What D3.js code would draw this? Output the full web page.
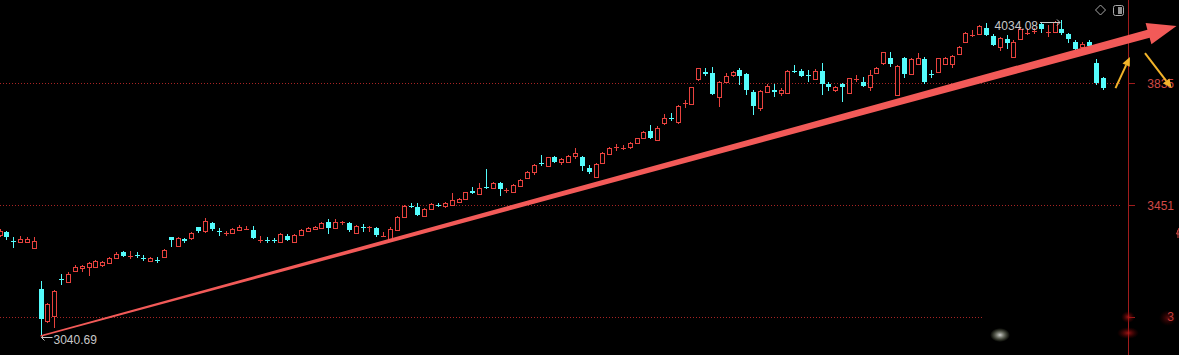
<!DOCTYPE html>
<html lang="zh">
<head>
<meta charset="UTF-8">
<title>K线走势</title>
<script src="https://cdnjs.cloudflare.com/ajax/libs/d3/7.8.5/d3.min.js"></script>
<style>
  body { margin: 0; background: #000; overflow: hidden; }
  svg { display: block; }
  text { font-family: "Liberation Sans", Arial, sans-serif; }
</style>
</head>
<body>
<div id="chart"></div>
<script>
// daily candles, oldest first
const opens = [3358,3368,3341,3336,3337,3317,3188,3086,3104,3222,
  3212,3245,3254,3259,3256,3264,3270,3286,3305,3292,
  3297,3288,3274,3280,3288,3351,3325,3345,3348,3382,
  3369,3397,3372,3361,3365,3376,3374,3374,3342,3345,
  3342,3335,3355,3335,3358,3371,3378,3382,3400,3382,
  3397,3395,3364,3384,3382,3379,3355,3345,3376,3414,
  3450,3445,3419,3440,3455,3447,3452,3462,3470,3497,
  3489,3510,3505,3521,3497,3494,3513,3538,3557,3588,
  3573,3604,3587,3589,3604,3602,3568,3541,3585,3612,
  3633,3630,3634,3646,3664,3686,3657,3709,3728,3714,
  3770,3769,3846,3870,3867,3793,3840,3863,3877,3864,
  3809,3758,3809,3814,3804,3804,3875,3875,3864,3849,
  3874,3832,3816,3832,3804,3848,3840,3824,3867,3898,
  3914,3798,3914,3864,3898,3912,3867,3870,3895,3896,
  3926,3966,3986,3990,4008,3984,3950,3973,3919,3973,
  3991,3996,4022,3994,3995,4006,3990,3966,3949,3964,
  3898,3851];
const highs = [3377,3371,3353,3355,3353,3352,3214,3145,3185,3236,
  3243,3264,3264,3273,3280,3277,3289,3306,3308,3308,
  3306,3295,3290,3290,3314,3353,3353,3350,3367,3384,
  3411,3400,3379,3371,3381,3390,3386,3386,3355,3351,
  3348,3364,3360,3361,3377,3382,3386,3400,3408,3408,
  3403,3400,3390,3393,3387,3384,3369,3382,3418,3452,
  3458,3458,3442,3458,3460,3461,3489,3476,3494,3510,
  3521,3565,3526,3526,3507,3519,3533,3559,3580,3610,
  3604,3607,3601,3610,3631,3607,3578,3584,3618,3634,
  3643,3641,3650,3664,3685,3704,3701,3739,3741,3767,
  3783,3824,3884,3884,3885,3843,3867,3874,3882,3868,
  3814,3814,3833,3833,3821,3877,3893,3879,3877,3879,
  3898,3840,3828,3837,3853,3861,3854,3877,3886,3934,
  3934,3893,3919,3914,3929,3919,3877,3916,3917,3924,
  3952,3997,4003,4018,4024,3990,3982,3987,3971,4008,
  4008,4008,4029,4018,4030,4034.08,3994,3971,3965,3971,
  3911,3856];
const lows = [3352,3342,3317,3333,3334,3314,3040.69,3082,3067,3201,
  3207,3242,3242,3229,3254,3259,3267,3282,3290,3283,
  3287,3277,3272,3269,3285,3321,3321,3334,3342,3365,
  3365,3372,3355,3355,3363,3372,3373,3345,3332,3332,
  3334,3332,3339,3332,3355,3368,3376,3379,3361,3379,
  3390,3369,3361,3369,3369,3353,3351,3340,3374,3411,
  3442,3418,3417,3437,3447,3444,3450,3460,3468,3487,
  3487,3504,3503,3482,3489,3492,3510,3536,3547,3575,
  3571,3585,3578,3585,3596,3559,3549,3540,3584,3610,
  3622,3625,3628,3644,3662,3659,3655,3703,3717,3706,
  3757,3767,3843,3858,3798,3762,3837,3854,3830,3798,
  3735,3748,3806,3793,3795,3801,3867,3856,3840,3846,
  3798,3812,3807,3775,3801,3840,3824,3812,3863,3893,
  3887,3795,3851,3861,3893,3833,3851,3867,3893,3882,
  3924,3964,3980,3987,3984,3952,3938,3942,3917,3971,
  3987,3990,3992,3982,3992,3987,3963,3940,3943,3945,
  3830,3814];
const closes = [3371,3352,3338,3347,3346,3339,3094,3140,3182,3218,
  3236,3258,3261,3271,3276,3273,3286,3298,3292,3295,
  3294,3285,3285,3278,3311,3340,3350,3340,3364,3369,
  3402,3377,3369,3365,3377,3384,3377,3348,3345,3342,
  3340,3360,3342,3358,3374,3379,3384,3397,3382,3400,
  3401,3374,3386,3381,3386,3358,3358,3377,3416,3450,
  3447,3421,3440,3455,3452,3458,3468,3472,3492,3492,
  3507,3506,3521,3503,3500,3515,3531,3557,3578,3584,
  3602,3589,3597,3607,3615,3573,3555,3581,3615,3631,
  3636,3633,3646,3662,3683,3664,3695,3725,3724,3764,
  3774,3823,3882,3865,3800,3840,3858,3872,3859,3814,
  3765,3812,3828,3809,3814,3874,3871,3859,3860,3875,
  3832,3824,3824,3824,3851,3851,3828,3861,3882,3933,
  3896,3890,3864,3911,3916,3840,3863,3914,3914,3922,
  3948,3994,3990,4016,3987,3955,3977,3959,3966,4006,
  3995,4000,4006,3997,4027,3992,3973,3945,3959,3950,
  3835,3819];

const tickValues = [3835, 3451, 3100];
const tickLabels = ["3835", "3451", "3"];

// hand drawn trend arrow and the two small arrows, in [candle index, price]
const trendArrow = [[6, 3040.69], [171.8, 4015]];
const upArrow = [[162.9, 3820], [165.0, 3918]];
const downArrow = [[167.2, 3930], [171.1, 3820]];

const width = 1179, height = 355;
const axisX = 1128.5;
const red = "#e8423e", cyan = "#54fcfc";

const svg = d3.select("#chart").append("svg")
  .attr("width", width).attr("height", height)
  .style("background", "#000");

const x = d3.scaleLinear().domain([0, opens.length - 1]).range([-0.5, 1102.5]);
const y = d3.scaleLinear().domain([d3.min(lows), d3.max(highs)]).range([336, 20]);

// grid
const grid = svg.append("g").attr("shape-rendering", "crispEdges");
grid.selectAll("line").data(tickValues).enter().append("line")
  .attr("x1", 0).attr("x2", (d, i) => i === 2 ? 982 : 1122)
  .attr("y1", d => Math.round(y(d)) + 0.5).attr("y2", d => Math.round(y(d)) + 0.5)
  .attr("stroke", "#a82424").attr("stroke-dasharray", "1,2");

// right axis
const axis = svg.append("g").attr("shape-rendering", "crispEdges");
axis.append("line").attr("x1", axisX).attr("x2", axisX).attr("y1", 0).attr("y2", height)
  .attr("stroke", "#a01c1c");
axis.selectAll(".tick").data(tickValues).enter().append("line")
  .attr("x1", axisX).attr("x2", axisX + 6)
  .attr("y1", d => Math.round(y(d)) + 0.5).attr("y2", d => Math.round(y(d)) + 0.5)
  .attr("stroke", "#a01c1c");
svg.selectAll(".tlabel").data(tickValues).enter().append("text")
  .attr("x", 1174).attr("y", d => y(d)).attr("dy", "0.36em")
  .attr("text-anchor", "end").attr("font-size", 12).attr("fill", "#d24a46")
  .text((d, i) => tickLabels[i]);
// sliver of a glyph at the right edge
svg.append("path").attr("d", "M1179,228 L1176.5,234 L1179,234 M1178,230 L1178,238")
  .attr("stroke", "#d24a46").attr("fill", "none");

// candles
const g = svg.append("g").attr("shape-rendering", "crispEdges");
opens.forEach((o, i) => {
  const c = closes[i];
  const cx = Math.round(x(i)) + 0.5;
  const up = c >= o;
  const col = up ? red : cyan;
  const top = y(Math.max(o, c)), bot = y(Math.min(o, c));
  g.append("line").attr("x1", cx).attr("x2", cx)
    .attr("y1", y(highs[i])).attr("y2", y(lows[i])).attr("stroke", col);
  if (bot - top < 1.5) {
    const yy = Math.round((top + bot) / 2) + 0.5;
    g.append("line").attr("x1", cx - 2.5).attr("x2", cx + 2.5)
      .attr("y1", yy).attr("y2", yy).attr("stroke", col);
  } else if (up) {
    g.append("rect").attr("x", cx - 2).attr("width", 4)
      .attr("y", Math.round(top) + 0.5).attr("height", Math.max(1, Math.round(bot - top)))
      .attr("fill", "#000").attr("stroke", red);
  } else {
    g.append("rect").attr("x", cx - 2.5).attr("width", 5)
      .attr("y", Math.round(top)).attr("height", Math.max(1, Math.round(bot - top)))
      .attr("fill", cyan);
  }
});

// min / max labels
const iLow = lows.indexOf(d3.min(lows)), iHigh = highs.indexOf(d3.max(highs));
const lx = Math.round(x(iLow)) + 0.5, ly = Math.round(y(lows[iLow])) + 1.5;
svg.append("path")
  .attr("d", `M${lx},${ly} L${lx + 11},${ly} M${lx + 3},${ly - 3} L${lx},${ly} L${lx + 3},${ly + 3}`)
  .attr("stroke", "#c8c8c8").attr("fill", "none");
svg.append("text").attr("x", lx + 12).attr("y", ly + 2).attr("dy", "0.36em")
  .attr("font-size", 12).attr("fill", "#c8c8c8").text(d3.format(".2f")(lows[iLow]));

const hx = Math.round(x(iHigh)) - 1, hy = Math.round(y(highs[iHigh])) + 2.5;
svg.append("path")
  .attr("d", `M${hx - 20},${hy} L${hx},${hy} M${hx - 3},${hy - 3} L${hx},${hy} L${hx - 3},${hy + 3}`)
  .attr("stroke", "#c8c8c8").attr("fill", "none");
svg.append("text").attr("x", hx - 22).attr("y", hy + 3).attr("dy", "0.36em")
  .attr("text-anchor", "end").attr("font-size", 12).attr("fill", "#c8c8c8")
  .text(d3.format(".2f")(highs[iHigh]));

// trend arrow (tapered shaft)
function pt(p) { return [x(p[0]), y(p[1])]; }
const [a0, a1] = trendArrow.map(pt);
const len = Math.hypot(a1[0] - a0[0], a1[1] - a0[1]);
const u = [(a1[0] - a0[0]) / len, (a1[1] - a0[1]) / len];
const n = [-u[1], u[0]];
const headLen = 29, headW = 11, w0 = 0.9, w1 = 4.2;
const base = [a1[0] - u[0] * headLen, a1[1] - u[1] * headLen];
const off = (p, k) => [p[0] + n[0] * k, p[1] + n[1] * k];
const poly = [off(a0, w0), off(base, w1), off(base, headW), a1, off(base, -headW), off(base, -w1), off(a0, -w0)];
svg.append("path").attr("d", d3.line()(poly) + "Z").attr("fill", "#f25a58");

// small amber arrows
[upArrow, downArrow].forEach(arr => {
  const [p0, p1] = arr.map(pt);
  const L = Math.hypot(p1[0] - p0[0], p1[1] - p0[1]);
  const v = [(p1[0] - p0[0]) / L, (p1[1] - p0[1]) / L];
  const m = [-v[1], v[0]];
  const b = [p1[0] - v[0] * 9, p1[1] - v[1] * 9];
  svg.append("line").attr("x1", p0[0]).attr("y1", p0[1]).attr("x2", b[0]).attr("y2", b[1])
    .attr("stroke", "#f2b42a").attr("stroke-width", 2);
  svg.append("path")
    .attr("d", d3.line()([[b[0] + m[0] * 4, b[1] + m[1] * 4], p1, [b[0] - m[0] * 4, b[1] - m[1] * 4]]) + "Z")
    .attr("fill", "#f2b42a");
});

// toolbar icons
svg.append("path").attr("d", "M1100.5,5 L1105.5,10 L1100.5,15 L1095.5,10 Z")
  .attr("fill", "none").attr("stroke", "#a8a8a8");
svg.append("rect").attr("x", 1113.5).attr("y", 5.5).attr("width", 10).attr("height", 10).attr("rx", 2)
  .attr("fill", "none").attr("stroke", "#a8a8a8");
svg.append("rect").attr("x", 1118).attr("y", 7).attr("width", 4).attr("height", 7).attr("fill", "#909090");

// faint watermark glow at the bottom
const defs = svg.append("defs");
const wg = defs.append("radialGradient").attr("id", "wm");
wg.append("stop").attr("offset", "0%").attr("stop-color", "#ffffff").attr("stop-opacity", 0.8);
wg.append("stop").attr("offset", "100%").attr("stop-color", "#b8c890").attr("stop-opacity", 0);
const rg = defs.append("radialGradient").attr("id", "rg");
rg.append("stop").attr("offset", "0%").attr("stop-color", "#c01818").attr("stop-opacity", 0.8);
rg.append("stop").attr("offset", "100%").attr("stop-color", "#600").attr("stop-opacity", 0);
svg.append("ellipse").attr("cx", 1000).attr("cy", 335).attr("rx", 10).attr("ry", 7).attr("fill", "url(#wm)");
svg.append("ellipse").attr("cx", 1128).attr("cy", 317).attr("rx", 7).attr("ry", 6).attr("fill", "url(#rg)");
svg.append("ellipse").attr("cx", 1128).attr("cy", 333).attr("rx", 11).attr("ry", 6).attr("fill", "url(#rg)");
svg.append("ellipse").attr("cx", 1168).attr("cy", 318).attr("rx", 9).attr("ry", 8).attr("fill", "url(#rg)").attr("opacity", 0.6);
</script>
</body>
</html>
